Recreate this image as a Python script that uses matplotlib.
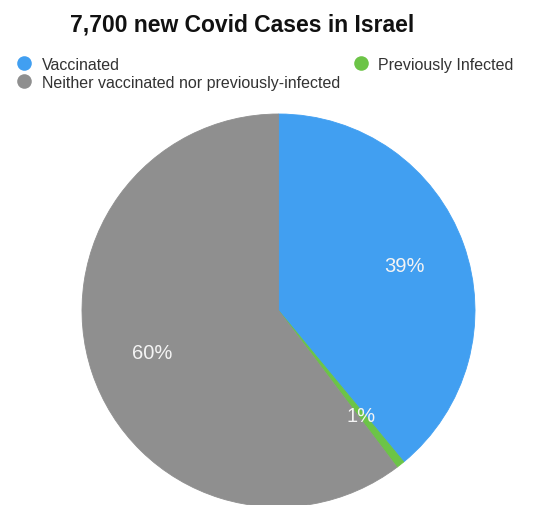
import numpy as np
import matplotlib.pyplot as plt
from matplotlib.lines import Line2D

plt.rcParams["font.family"] = ["Liberation Sans", "DejaVu Sans"]

# data
labels = ["Vaccinated", "Previously Infected", "Neither vaccinated nor previously-infected"]
shares = [39.0, 0.7, 60.3]
pct_text = ["39%", "1%", "60%"]
colours = ["#419ff1", "#6cc447", "#8f8f8f"]

fig = plt.figure(figsize=(5.47, 5.06), dpi=100)
fig.patch.set_facecolor("white")

# pie centre ~ (278, 311) px, radius ~196 px
W, H = 547, 506
cx, cy, r = 278.5, 311.5, 196.5
ax = fig.add_axes([(cx - r) / W, (H - cy - r) / H, 2 * r / W, 2 * r / H])

wedges, _ = ax.pie(
    shares,
    colors=colours,
    startangle=90,
    counterclock=False,
    radius=1,
    wedgeprops=dict(linewidth=0.6),
)
for w, c in zip(wedges, colours):
    w.set_edgecolor(c)

# percentage labels inside each wedge
for w, txt in zip(wedges, pct_text):
    ang = np.deg2rad((w.theta1 + w.theta2) / 2)
    ax.text(
        0.68 * np.cos(ang),
        0.68 * np.sin(ang),
        txt,
        ha="center",
        va="center",
        color="#f4f4f4",
        fontsize=14.5,
    )
ax.set_xlim(-1, 1)
ax.set_ylim(-1, 1)
ax.axis("off")

fig.text(242 / W, 1 - 25 / H, "7,700 new Covid Cases in Israel",
         ha="center", va="center", fontsize=16.5, fontweight="bold", color="#111111")

# legend, column-major: Vaccinated / Neither in col 1, Previously Infected in col 2
order = [0, 2, 1]
handles = [
    Line2D([], [], linestyle="none", marker="o", markersize=10.5,
           markerfacecolor=colours[i], markeredgewidth=0)
    for i in order
]
leg = fig.legend(
    handles,
    [labels[i] for i in order],
    ncol=2,
    loc="upper left",
    bbox_to_anchor=(16 / W, 1 - 58 / H),
    frameon=False,
    fontsize=11.5,
    handlelength=1.0,
    handletextpad=0.6,
    labelspacing=0.18,
    columnspacing=0.8,
    borderpad=0,
    borderaxespad=0,
)
for t in leg.get_texts():
    t.set_color("#333333")

fig.savefig("out.png", dpi=100, facecolor="white")
